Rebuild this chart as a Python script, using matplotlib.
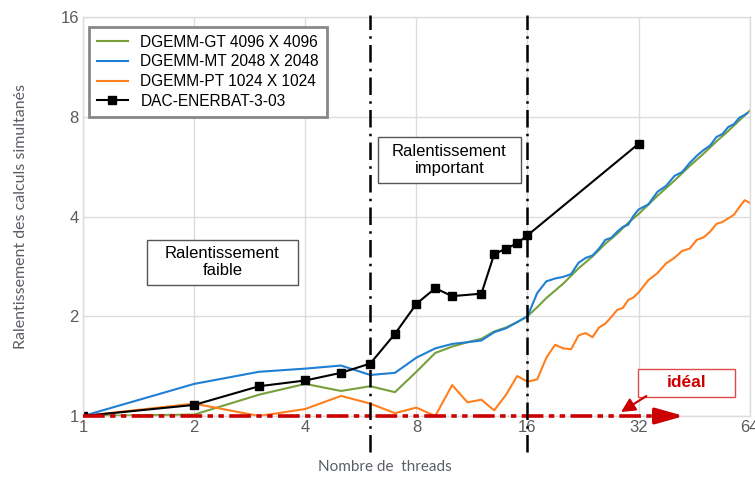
import matplotlib
matplotlib.use("Agg")
import matplotlib.pyplot as plt
from matplotlib.patches import Rectangle

# threads / slowdown values
dac_x = [1, 2, 3, 4, 5, 6, 7, 8, 9, 10, 12, 13, 14, 15, 16, 32]
dac_y = [1.0, 1.08, 1.23, 1.28, 1.35, 1.44, 1.77, 2.18, 2.43, 2.3, 2.34, 3.08, 3.2, 3.32, 3.51, 6.63]

gt_x = [1, 2, 3, 4, 5, 6, 7, 8, 9, 10, 11, 12, 13, 14, 15, 16,
        17, 18, 20, 22, 24, 26, 28, 30, 32, 36, 40, 44, 48, 52, 56, 60, 64]
gt_y = [1.0, 1.01, 1.16, 1.25, 1.19, 1.23, 1.18, 1.36, 1.55, 1.62, 1.67, 1.71, 1.8, 1.85, 1.92, 2.0,
        2.13, 2.27, 2.51, 2.79, 3.03, 3.31, 3.55, 3.83, 4.07, 4.62, 5.13, 5.68, 6.19, 6.74, 7.25, 7.8, 8.34]

mt_x = [1, 2, 3, 4, 5, 6, 7, 8, 9, 10, 11, 12, 13, 14, 15, 16,
        17, 18, 19, 20, 21, 22, 23, 24, 25, 26, 27, 28, 29, 30, 31, 32,
        34, 36, 38, 40, 42, 44, 46, 48, 50, 52, 54, 56, 58, 60, 62, 63]
mt_y = [1.0, 1.25, 1.36, 1.39, 1.42, 1.33, 1.35, 1.5, 1.6, 1.65, 1.67, 1.69, 1.79, 1.84, 1.92, 2.0,
        2.35, 2.55, 2.6, 2.63, 2.68, 2.9, 3.0, 3.05, 3.2, 3.4, 3.45, 3.6, 3.72, 3.78, 4.02, 4.2,
        4.35, 4.75, 4.95, 5.3, 5.45, 5.8, 6.1, 6.35, 6.55, 6.95, 7.1, 7.45, 7.6, 7.95, 8.1, 8.2]

pt_x = [1, 2, 3, 4, 5, 6, 7, 8, 9, 10, 11, 12, 13, 14, 15, 16,
        17, 18, 19, 20, 21, 22, 23, 24, 25, 26, 27, 28, 29, 30, 31, 32,
        34, 36, 38, 40, 42, 44, 46, 48, 50, 52, 54, 56, 58, 60, 62, 64]
pt_y = [1.0, 1.09, 1.0, 1.05, 1.15, 1.09, 1.02, 1.06, 1.0, 1.24, 1.1, 1.12, 1.04, 1.16, 1.32, 1.27,
        1.29, 1.5, 1.64, 1.6, 1.59, 1.75, 1.78, 1.73, 1.85, 1.9, 1.99, 2.09, 2.12, 2.24, 2.28, 2.36,
        2.57, 2.7, 2.89, 3.0, 3.15, 3.2, 3.4, 3.46, 3.6, 3.8, 3.85, 3.95, 4.05, 4.27, 4.48, 4.4]

ticks = [1, 2, 4, 8, 16, 32, 64]
yticks = [1, 2, 4, 8, 16]
zone_limits = [6, 16]

green = '#77a03c'
blue = '#1f7fd2'
orange = '#ff7f1f'
red = '#cc0000'
grey_txt = '#5a5f66'

fig = plt.figure(figsize=(7.55, 4.79), dpi=100)
ax = fig.add_axes([0.110, 0.1315, 0.883, 0.833])
ax.set_xscale('log', base=2)
ax.set_yscale('log', base=2)
ax.set_xlim(1, 64)
ax.set_ylim(1, 16)

ax.plot(gt_x, gt_y, color=green, lw=1.5, label='DGEMM-GT 4096 X 4096')
ax.plot(mt_x, mt_y, color=blue, lw=1.5, label='DGEMM-MT 2048 X 2048')
ax.plot(pt_x, pt_y, color=orange, lw=1.5, label='DGEMM-PT 1024 X 1024')
ax.plot(dac_x, dac_y, color='black', lw=1.5, marker='s', ms=5.5, label='DAC-ENERBAT-3-03')

# ideal line with arrow head
ax.plot([1, 36], [1, 1], color=red, lw=2.6, dashes=[6, 1.5, 1.5, 1.5, 1.5, 1.5], clip_on=False, zorder=5)
ax.annotate('', xy=(42.5, 1), xytext=(35.5, 1), annotation_clip=False,
            arrowprops=dict(arrowstyle='-|>,head_length=0.85,head_width=0.24', mutation_scale=20,
                            color=red, lw=2.6, shrinkA=0, shrinkB=0), zorder=5)

# zone limits
for xl in zone_limits:
    ax.plot([xl, xl], [-0.09, 1.005], transform=ax.get_xaxis_transform(), color='black',
            lw=1.8, dashes=[7, 2.5, 1, 2.5], clip_on=False, zorder=6)

ax.set_xticks(ticks)
ax.set_xticklabels([str(t) for t in ticks])
ax.set_yticks(yticks)
ax.set_yticklabels([str(t) for t in yticks])
ax.minorticks_off()
ax.tick_params(length=0, labelsize=12, labelcolor='#5b5b5b', pad=3)
for lab in ax.get_xticklabels() + ax.get_yticklabels():
    lab.set_family('Liberation Sans')
ax.grid(True, color='#dcdcdc', lw=1)
for sp in ax.spines.values():
    sp.set_color('#dcdcdc')
    sp.set_linewidth(1)

ax.set_ylabel('Ralentissement des calculs simultanés', family='Lato', fontsize=11.5, color=grey_txt)
ax.yaxis.set_label_coords(-0.083, 0.5)
ax.set_xlabel('Nombre de  threads', family='Lato', fontsize=11, color=grey_txt)
ax.xaxis.set_label_coords(0.453, -0.11)

# zone boxes
ax.add_patch(Rectangle((0.096, 0.328), 0.226, 0.113, transform=ax.transAxes, fill=True,
                       facecolor='white', edgecolor='#555555', lw=1, zorder=7))
ax.text(0.209, 0.385, 'Ralentissement\nfaible', transform=ax.transAxes, ha='center', va='center',
        family='Liberation Sans', fontsize=12, linespacing=1.15, zorder=8)
ax.add_patch(Rectangle((0.442, 0.584), 0.215, 0.115, transform=ax.transAxes, fill=True,
                       facecolor='white', edgecolor='#555555', lw=1, zorder=7))
ax.text(0.5495, 0.642, 'Ralentissement\nimportant', transform=ax.transAxes, ha='center', va='center',
        family='Liberation Sans', fontsize=12, linespacing=1.15, zorder=8)

# ideal label
ax.add_patch(Rectangle((0.832, 0.048), 0.146, 0.070, transform=ax.transAxes, fill=True,
                       facecolor='white', edgecolor='#e04848', lw=1, zorder=7))
ax.text(0.905, 0.083, 'idéal', transform=ax.transAxes, ha='center', va='center',
        family='Liberation Sans', fontweight='bold', fontsize=12.5, color=red, zorder=8)
ax.annotate('', xy=(0.807, 0.010), xytext=(0.845, 0.050), xycoords='axes fraction',
            textcoords='axes fraction', annotation_clip=False,
            arrowprops=dict(arrowstyle='-|>,head_length=0.6,head_width=0.3', mutation_scale=14,
                            color=red, lw=1.5, shrinkA=0, shrinkB=0), zorder=8)

leg = ax.legend(loc='upper left', bbox_to_anchor=(0.009, 0.975), borderaxespad=0,
                prop={'family': 'Liberation Sans', 'size': 11.2}, fancybox=False,
                handlelength=2.0, labelspacing=0.3, borderpad=0.5, framealpha=1)
leg.get_frame().set_edgecolor('#888888')
leg.get_frame().set_linewidth(2)
leg.set_zorder(9)

fig.savefig('out.png', dpi=100)
